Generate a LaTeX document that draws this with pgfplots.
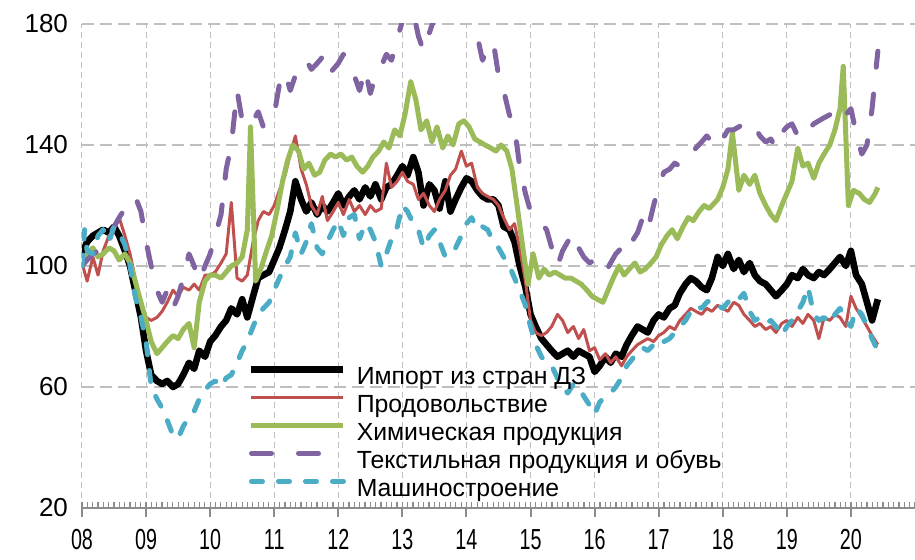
\documentclass[border=0pt]{standalone}
\usepackage{pgfplots}
\pgfplotsset{compat=1.18}
\usepackage{fontspec}
\setmainfont{Liberation Sans}
\usepackage{graphicx}
\definecolor{cred}{HTML}{C0504D}
\definecolor{cgreen}{HTML}{9BBB59}
\definecolor{cpurple}{HTML}{8064A2}
\definecolor{ccyan}{HTML}{4BACC6}
\definecolor{cgrid}{HTML}{BFBFBF}
\definecolor{caxis}{HTML}{8C8C8C}
\newcommand\sx[1]{\scalebox{0.68}[1]{#1}}
\begin{document}
\begin{tikzpicture}
\begin{axis}[
  scale only axis,
  width=416.5pt, height=242pt,
  xmin=8, xmax=21, ymin=20, ymax=180,
  xtick={8,...,20},
  xticklabels={\sx{08},\sx{09},\sx{10},\sx{11},\sx{12},\sx{13},\sx{14},\sx{15},\sx{16},\sx{17},\sx{18},\sx{19},\sx{20}},
  minor xtick={8,8.0833333,...,21},
  ytick={20,60,100,140,180},
  separate axis lines,
  axis x line*=bottom, axis y line*=left,
  y axis line style={draw=none},
  x axis line style={caxis, line width=1.2pt},
  ytick style={draw=none},
  tick align=outside,
  major tick length=4.5pt,
  minor tick length=3pt,
  major x tick style={caxis, line width=1pt},
  minor x tick style={caxis, line width=0.6pt, yshift=3pt},
  grid=major,
  x grid style={cgrid, line width=0.5pt, dash pattern=on 3pt off 2pt},
  y grid style={cgrid, line width=1.2pt, dash pattern=on 6pt off 3pt},
  /pgf/number format/assume math mode=true,
  yticklabel style={font=\fontsize{13}{15}\selectfont, xshift=1pt},
  xticklabel style={font=\fontsize{14.5}{17}\selectfont, yshift=-2.5pt},
  legend cell align=left,
  legend style={at={(0.199,0.298)}, anchor=north west, draw=none, fill=none,
    inner sep=0pt, font=\fontsize{12.4}{14}\selectfont,
    nodes={inner sep=0pt, text height=10pt, text depth=4pt},
    row sep=0pt,
    /tikz/every odd column/.append style={column sep=5pt}},
  legend image code/.code={\draw[#1] (0pt,4.4pt) -- (46pt,4.4pt);},
  line join=round,
]
\addplot[black, line width=3.3pt] coordinates {
(8.00,104) (8.08,108) (8.17,110) (8.25,111) (8.33,112) (8.42,111) (8.50,113) (8.58,110) (8.67,105) (8.75,100)
(8.83,92) (8.92,83) (9.00,72) (9.08,64) (9.17,62) (9.25,61) (9.33,62) (9.42,60) (9.50,61) (9.58,64)
(9.67,68) (9.75,66) (9.83,72) (9.92,70) (10.00,75) (10.08,77) (10.17,80) (10.25,82) (10.33,86) (10.42,84)
(10.50,89) (10.58,83) (10.67,90) (10.75,96) (10.83,97) (10.92,98) (11.00,102) (11.08,106) (11.17,112) (11.25,118)
(11.33,128) (11.42,122) (11.50,118) (11.58,121) (11.67,117) (11.75,120) (11.83,118) (11.92,121) (12.00,124) (12.08,120)
(12.17,123) (12.25,125) (12.33,122) (12.42,126) (12.50,123) (12.58,127) (12.67,122) (12.75,126) (12.83,127) (12.92,130)
(13.00,133) (13.08,130) (13.17,136) (13.25,131) (13.33,120) (13.42,127) (13.50,125) (13.58,119) (13.67,128) (13.75,118)
(13.83,122) (13.92,126) (14.00,129) (14.08,128) (14.17,125) (14.25,123) (14.33,122) (14.42,122) (14.50,120) (14.58,113)
(14.67,112) (14.75,108) (14.83,100) (14.92,93) (15.00,84) (15.08,80) (15.17,76) (15.25,74) (15.33,72) (15.42,70)
(15.50,71) (15.58,72) (15.67,70) (15.75,72) (15.83,71) (15.92,70) (16.00,65) (16.08,67) (16.17,70) (16.25,68)
(16.33,71) (16.42,70) (16.50,74) (16.58,77) (16.67,80) (16.75,79) (16.83,78) (16.92,82) (17.00,84) (17.08,83)
(17.17,86) (17.25,87) (17.33,91) (17.42,94) (17.50,96) (17.58,95) (17.67,93) (17.75,92) (17.83,96) (17.92,103)
(18.00,100) (18.08,104) (18.17,99) (18.25,102) (18.33,98) (18.42,101) (18.50,97) (18.58,95) (18.67,94) (18.75,92)
(18.83,90) (18.92,92) (19.00,94) (19.08,97) (19.17,96) (19.25,99) (19.33,97) (19.42,96) (19.50,98) (19.58,97)
(19.67,99) (19.75,101) (19.83,103) (19.92,100) (20.00,105) (20.08,97) (20.17,94) (20.25,88) (20.33,82) (20.42,89)
};
\addlegendentry{Импорт из стран ДЗ}
\addplot[cred, line width=1.5pt] coordinates {
(8.00,101) (8.08,95) (8.17,103) (8.25,97) (8.33,105) (8.42,110) (8.50,112) (8.58,116) (8.67,110) (8.75,104)
(8.83,96) (8.92,88) (9.00,83) (9.08,82) (9.17,83) (9.25,85) (9.33,88) (9.42,92) (9.50,90) (9.58,93)
(9.67,92) (9.75,94) (9.83,92) (9.92,97) (10.00,97) (10.08,98) (10.17,101) (10.25,104) (10.33,121) (10.42,96)
(10.50,95) (10.58,97) (10.67,108) (10.75,115) (10.83,118) (10.92,117) (11.00,120) (11.08,125) (11.17,130) (11.25,137)
(11.33,143) (11.42,132) (11.50,127) (11.58,120) (11.67,117) (11.75,123) (11.83,115) (11.92,118) (12.00,121) (12.08,117)
(12.17,122) (12.25,118) (12.33,120) (12.42,117) (12.50,120) (12.58,118) (12.67,119) (12.75,134) (12.83,126) (12.92,128)
(13.00,131) (13.08,128) (13.17,127) (13.25,122) (13.33,124) (13.42,120) (13.50,118) (13.58,122) (13.67,125) (13.75,130)
(13.83,132) (13.92,138) (14.00,133) (14.08,134) (14.17,126) (14.25,124) (14.33,123) (14.42,122) (14.50,120) (14.58,116)
(14.67,112) (14.75,114) (14.83,106) (14.92,95) (15.00,82) (15.08,78) (15.17,77) (15.25,78) (15.33,80) (15.42,84)
(15.50,82) (15.58,78) (15.67,80) (15.75,76) (15.83,79) (15.92,72) (16.00,73) (16.08,69) (16.17,71) (16.25,68)
(16.33,70) (16.42,67) (16.50,70) (16.58,72) (16.67,74) (16.75,75) (16.83,76) (16.92,75) (17.00,77) (17.08,78)
(17.17,80) (17.25,79) (17.33,82) (17.42,84) (17.50,86) (17.58,85) (17.67,84) (17.75,86) (17.83,85) (17.92,87)
(18.00,86) (18.08,85) (18.17,88) (18.25,87) (18.33,84) (18.42,82) (18.50,80) (18.58,81) (18.67,79) (18.75,80)
(18.83,78) (18.92,81) (19.00,82) (19.08,80) (19.17,83) (19.25,81) (19.33,84) (19.42,82) (19.50,76) (19.58,83)
(19.67,82) (19.75,84) (19.83,83) (19.92,80) (20.00,90) (20.08,86) (20.17,83) (20.25,80) (20.33,77) (20.42,74)
};
\addlegendentry{Продовольствие}
\addplot[cgreen, line width=2.5pt] coordinates {
(8.00,100) (8.08,104) (8.17,106) (8.25,103) (8.33,104) (8.42,106) (8.50,105) (8.58,102) (8.67,104) (8.75,101)
(8.83,95) (8.92,88) (9.00,82) (9.08,75) (9.17,71) (9.25,73) (9.33,75) (9.42,77) (9.50,76) (9.58,79)
(9.67,81) (9.75,73) (9.83,88) (9.92,95) (10.00,97) (10.08,97) (10.17,96) (10.25,98) (10.33,100) (10.42,101)
(10.50,103) (10.58,112) (10.63,146) (10.71,95) (10.79,99) (10.88,105) (10.96,110) (11.04,118) (11.13,128) (11.21,135)
(11.29,140) (11.38,138) (11.46,132) (11.54,134) (11.63,130) (11.71,131) (11.79,135) (11.88,137) (11.96,136) (12.04,137)
(12.13,135) (12.21,136) (12.29,133) (12.38,131) (12.46,133) (12.54,136) (12.63,138) (12.71,141) (12.79,139) (12.88,145)
(12.96,143) (13.04,150) (13.13,161) (13.21,155) (13.29,145) (13.38,148) (13.46,141) (13.54,146) (13.63,139) (13.71,143)
(13.79,140) (13.88,147) (13.96,148) (14.04,146) (14.13,142) (14.21,141) (14.29,140) (14.38,139) (14.46,138) (14.54,140)
(14.63,138) (14.71,132) (14.79,120) (14.88,106) (14.96,94) (15.04,104) (15.13,96) (15.21,99) (15.29,97) (15.38,98)
(15.46,97) (15.54,96) (15.63,96) (15.71,95) (15.79,94) (15.88,92) (15.96,90) (16.04,89) (16.13,88) (16.21,92)
(16.29,96) (16.38,100) (16.46,97) (16.54,99) (16.63,101) (16.71,98) (16.79,99) (16.88,101) (16.96,103) (17.04,107)
(17.13,110) (17.21,112) (17.29,109) (17.38,113) (17.46,116) (17.54,115) (17.63,118) (17.71,120) (17.79,119) (17.92,122)
(18.00,126) (18.08,132) (18.15,144) (18.25,125) (18.33,130) (18.42,127) (18.50,130) (18.58,124) (18.67,120) (18.75,117)
(18.83,115) (18.92,120) (19.00,124) (19.08,128) (19.17,139) (19.25,133) (19.33,134) (19.42,129) (19.50,134) (19.58,137)
(19.67,140) (19.75,145) (19.83,152) (19.88,166) (19.96,120) (20.04,125) (20.13,124) (20.21,122) (20.29,121) (20.38,124) (20.42,126)
};
\addlegendentry{Химическая продукция}
\addplot[cpurple, line width=2.5pt, line cap=round, dash pattern=on 10pt off 13.5pt] coordinates {
(8.00,100) (8.08,102) (8.17,104) (8.25,105) (8.33,107) (8.42,110) (8.50,113) (8.58,116) (8.67,119) (8.75,121)
(8.83,123) (8.92,118) (9.00,108) (9.08,100) (9.17,92) (9.25,88) (9.33,92) (9.42,86) (9.50,90) (9.58,96)
(9.67,104) (9.75,100) (9.83,95) (9.92,100) (10.00,104) (10.08,110) (10.17,117) (10.25,132) (10.33,140) (10.42,158)
(10.50,148) (10.58,150) (10.67,148) (10.75,151) (10.83,146) (10.92,147) (11.00,150) (11.08,160) (11.17,164) (11.25,158)
(11.33,163) (11.42,166) (11.50,168) (11.58,165) (11.67,167) (11.75,169) (11.83,163) (11.92,165) (12.00,167) (12.08,170)
(12.17,166) (12.25,163) (12.33,158) (12.42,165) (12.50,157) (12.58,163) (12.67,166) (12.75,170) (12.83,168) (12.92,175)
(13.00,181) (13.08,186) (13.17,184) (13.25,176) (13.33,171) (13.42,177) (13.50,182) (13.58,186) (13.67,188) (13.75,186)
(13.83,185) (13.92,183) (14.00,181) (14.08,178) (14.17,176) (14.25,168) (14.33,172) (14.42,174) (14.50,163) (14.58,158)
(14.67,150) (14.75,146) (14.83,133) (14.92,124) (15.00,118) (15.08,117) (15.17,114) (15.25,112) (15.33,106) (15.42,100)
(15.50,105) (15.58,108) (15.67,111) (15.75,106) (15.83,103) (15.92,101) (16.00,102) (16.08,99) (16.17,98) (16.25,101)
(16.33,104) (16.42,106) (16.50,104) (16.58,108) (16.67,111) (16.75,116) (16.83,112) (16.92,120) (17.00,126) (17.08,131)
(17.17,132) (17.25,134) (17.33,133) (17.42,134) (17.50,136) (17.58,139) (17.67,141) (17.75,143) (17.83,141) (17.92,144)
(18.00,142) (18.08,145) (18.17,145) (18.25,146) (18.33,147) (18.42,148) (18.50,146) (18.58,143) (18.67,141) (18.75,142)
(18.83,139) (18.92,144) (19.00,146) (19.08,147) (19.17,143) (19.25,146) (19.33,145) (19.42,147) (19.50,148) (19.58,149)
(19.67,150) (19.75,151) (19.83,153) (19.92,150) (20.00,152) (20.08,144) (20.17,137) (20.25,140) (20.33,152) (20.42,171)
};
\addlegendentry{Текстильная продукция и обувь}
\addplot[ccyan, line width=2.5pt, line cap=round, dash pattern=on 5.5pt off 8pt] coordinates {
(8.00,100) (8.04,112) (8.08,105) (8.17,104) (8.25,110) (8.33,112) (8.42,108) (8.50,113) (8.58,111) (8.67,107)
(8.75,100) (8.83,90) (8.92,83) (9.00,75) (9.08,60) (9.17,56) (9.25,53) (9.33,49) (9.42,44) (9.50,43)
(9.58,47) (9.67,50) (9.75,52) (9.83,56) (9.92,59) (10.00,61) (10.08,62) (10.17,60) (10.25,63) (10.33,64)
(10.42,68) (10.50,72) (10.58,75) (10.67,80) (10.75,84) (10.83,86) (10.92,88) (11.00,92) (11.08,96) (11.17,100)
(11.25,103) (11.33,111) (11.42,104) (11.50,108) (11.58,114) (11.67,106) (11.75,104) (11.83,108) (11.92,112) (12.00,115)
(12.08,110) (12.17,116) (12.25,117) (12.33,109) (12.42,114) (12.50,112) (12.58,108) (12.67,100) (12.75,104) (12.83,109)
(12.92,113) (13.00,120) (13.08,118) (13.17,114) (13.25,112) (13.33,106) (13.42,110) (13.50,112) (13.58,108) (13.67,103)
(13.75,104) (13.83,106) (13.92,110) (14.00,114) (14.08,116) (14.17,112) (14.25,113) (14.33,112) (14.42,108) (14.50,106)
(14.58,103) (14.67,100) (14.75,96) (14.83,92) (14.92,87) (15.00,80) (15.08,74) (15.17,70) (15.25,68) (15.33,67)
(15.42,63) (15.50,60) (15.58,58) (15.67,61) (15.75,60) (15.83,57) (15.92,54) (16.00,51) (16.08,55) (16.17,57)
(16.25,58) (16.33,60) (16.42,63) (16.50,67) (16.58,69) (16.67,72) (16.75,73) (16.83,72) (16.92,74) (17.00,73)
(17.08,75) (17.17,76) (17.25,78) (17.33,80) (17.42,82) (17.50,85) (17.58,87) (17.67,86) (17.75,88) (17.83,89)
(17.92,87) (18.00,86) (18.08,88) (18.17,90) (18.25,89) (18.33,91) (18.42,85) (18.50,82) (18.58,83) (18.67,81)
(18.75,82) (18.83,80) (18.92,77) (19.00,80) (19.08,82) (19.17,85) (19.25,88) (19.33,93) (19.42,84) (19.50,82)
(19.58,83) (19.67,81) (19.75,84) (19.83,86) (19.92,82) (20.00,80) (20.08,86) (20.17,84) (20.25,80) (20.33,76) (20.42,72)
};
\addlegendentry{Машиностроение}
\end{axis}
\pgfresetboundingbox
\path[use as bounding box] ([xshift=-41pt,yshift=-26pt]current axis.south west) rectangle ([yshift=12pt]current axis.north east);
\end{tikzpicture}
\end{document}
